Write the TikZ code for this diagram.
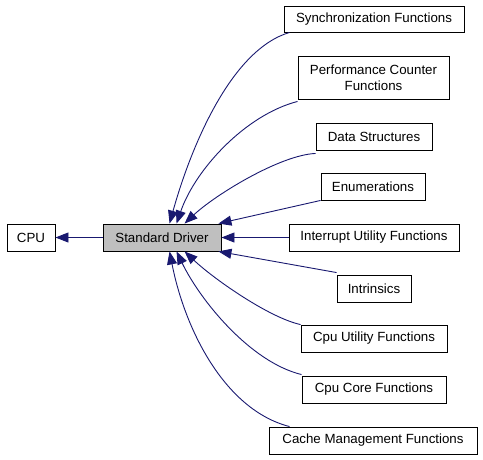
\documentclass[tikz,border=0pt]{standalone}
\usepackage{fontspec}
\setmainfont{Liberation Sans}
\usetikzlibrary{arrows.meta}
\definecolor{edgeblue}{HTML}{191970}
\definecolor{sdgray}{HTML}{BFBFBF}
\begin{document}
\begin{tikzpicture}[x=1pt,y=-1pt,
  box/.style={draw=black,line width=0.9pt,fill=white,inner sep=0pt,minimum height=27pt,
    font=\fontsize{13.3}{15.5}\selectfont,align=center},
  edge/.style={draw=edgeblue,line width=0.9pt,-{Triangle[length=13pt,width=10pt]}}]
\useasboundingbox (0,0) rectangle (483,459);
\node[box,minimum width=48pt] (cpu) at (31,237.5) {CPU};
\node[box,minimum width=118pt,fill=sdgray] (sd) at (162,237.5) {Standard Driver};
\node[box,minimum width=180pt,minimum height=26pt] (sync) at (374,19) {Synchronization Functions};
\node[box,minimum width=151pt,minimum height=43pt] (perf) at (373.5,77.5) {Performance Counter\\Functions};
\node[box,minimum width=116pt] (ds) at (374,136.5) {Data Structures};
\node[box,minimum width=104pt] (enum) at (373,186.5) {Enumerations};
\node[box,minimum width=170pt] (intr) at (374,237.5) {Interrupt Utility Functions};
\node[box,minimum width=74pt] (ins) at (374,288.5) {Intrinsics};
\node[box,minimum width=146pt] (cpuu) at (374,338.5) {Cpu Utility Functions};
\node[box,minimum width=144pt] (core) at (374,389.5) {Cpu Core Functions};
\node[box,minimum width=208pt] (cache) at (373,440.5) {Cache Management Functions};

\draw[edge] (sd.west) -- (cpu.east);
\draw[edge] ([xshift=6pt]sync.south west) .. controls (230,50) and (190,150) .. ([xshift=67pt]sd.north west);
\draw[edge] ([yshift=-2pt]perf.south west) .. controls (245,115) and (195,170) .. ([xshift=74pt]sd.north west);
\draw[edge] ([yshift=-3pt]ds.south west) .. controls (280,155) and (215,195) .. ([xshift=82pt]sd.north west);
\draw[edge] (enum.south west) -- ([xshift=-3pt]sd.north east);
\draw[edge] (intr.west) -- (sd.east);
\draw[edge] ([yshift=2pt]ins.north west) -- ([xshift=-3pt]sd.south east);
\draw[edge] (cpuu.north west) .. controls (270,318) and (215,280) .. ([xshift=82pt]sd.south west);
\draw[edge] ([yshift=1pt]core.north west) .. controls (250,362) and (200,300) .. ([xshift=74pt]sd.south west);
\draw[edge] ([xshift=21pt]cache.north west) .. controls (225,410) and (185,330) .. ([xshift=67pt]sd.south west);
\end{tikzpicture}
\end{document}
